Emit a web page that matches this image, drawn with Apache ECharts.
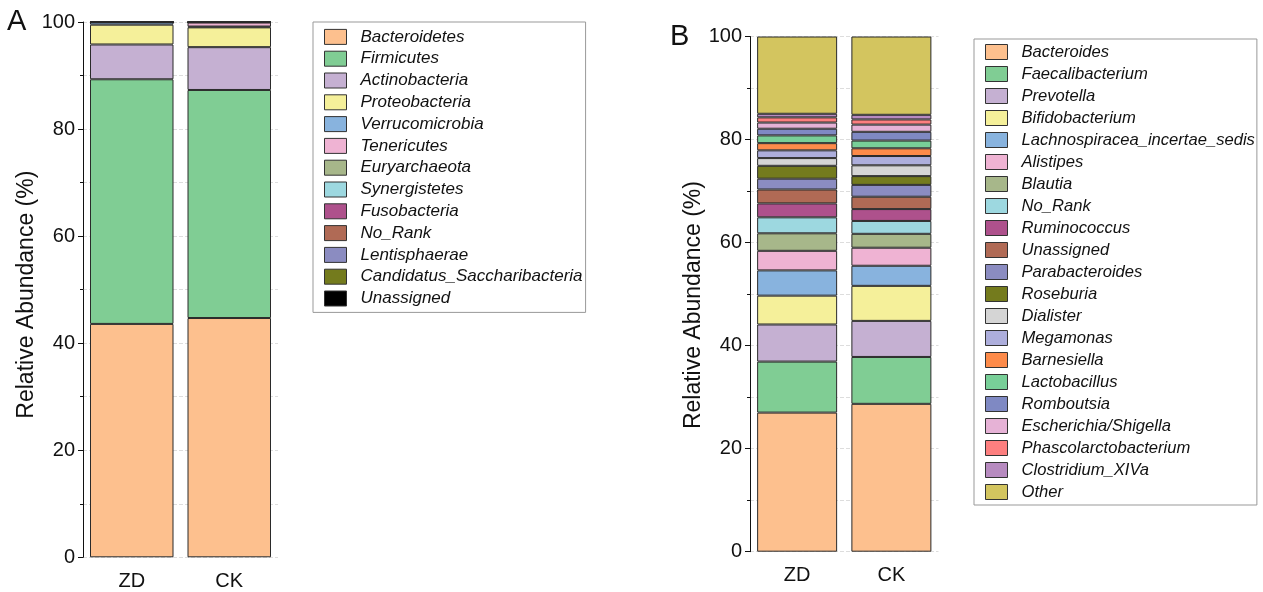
<!DOCTYPE html>
<html>
<head>
<meta charset="utf-8">
<script src="https://cdn.jsdelivr.net/npm/echarts@6/dist/echarts.min.js"></script>
<style>
  html, body { margin: 0; padding: 0; background: #fff; }
  #main { width: 1263px; height: 592px; }
</style>
</head>
<body>
<div id="main"></div>
<script>
var samples = ['ZD', 'CK'];

// panel A - phylum level
var phyla = ['Bacteroidetes', 'Firmicutes', 'Actinobacteria', 'Proteobacteria', 'Verrucomicrobia',
  'Tenericutes', 'Euryarchaeota', 'Synergistetes', 'Fusobacteria', 'No_Rank', 'Lentisphaerae',
  'Candidatus_Saccharibacteria', 'Unassigned'];
var phylaZD = [43.6, 45.7, 6.5, 3.7, 0.45, 0.005, 0.005, 0.005, 0.005, 0.005, 0.005, 0.005, 0.005];
var phylaCK = [44.7, 42.6, 8.0, 3.7, 0.15, 0.75, 0.015, 0.015, 0.015, 0.015, 0.01, 0.01, 0.01];
var phylaColors = ['#FDC08E', '#80CD94', '#C5B0D2', '#F5F09A', '#88B3DE', '#EFB3D3', '#A7B78A',
  '#9DD8E0', '#AE518C', '#B06A55', '#8B8CC1', '#747B1D', '#000000'];

// panel B - genus level
var genera = ['Bacteroides', 'Faecalibacterium', 'Prevotella', 'Bifidobacterium', 'Lachnospiracea_incertae_sedis',
  'Alistipes', 'Blautia', 'No_Rank', 'Ruminococcus', 'Unassigned', 'Parabacteroides', 'Roseburia',
  'Dialister', 'Megamonas', 'Barnesiella', 'Lactobacillus', 'Romboutsia', 'Escherichia/Shigella',
  'Phascolarctobacterium', 'Clostridium_XIVa', 'Other'];
var generaZD = [27.0, 9.9, 7.2, 5.6, 4.9, 3.8, 3.4, 3.1, 2.7, 2.7, 2.1, 2.5, 1.5, 1.5, 1.4, 1.5, 1.3, 1.2, 1.0, 0.7, 15.0];
var generaCK = [28.7, 9.1, 7.0, 6.8, 3.9, 3.5, 2.7, 2.5, 2.3, 2.4, 2.3, 1.7, 2.1, 1.8, 1.5, 1.5, 1.7, 1.4, 1.0, 0.9, 15.2];
var generaColors = ['#FDC08E', '#80CD94', '#C5B0D2', '#F5F09A', '#88B3DE', '#EFB3D3', '#A7B78A',
  '#9DD8E0', '#AE518C', '#B06A55', '#8B8CC1', '#747B1D', '#D5D5D5', '#ADAEDC', '#FD8B4A',
  '#78CF98', '#7F89C3', '#E6B2D6', '#FD7F7F', '#B78BC0', '#D3C55F'];

var yTicks = [0, 20, 40, 60, 80, 100];

var chart = echarts.init(document.getElementById('main'), null, { renderer: 'canvas' });
var FONT = 'Liberation Sans';

function xAxisOf(gi) {
  return {
    type: 'category', gridIndex: gi, data: samples,
    axisLine: { show: false }, axisTick: { show: false },
    axisLabel: { fontFamily: FONT, fontSize: 20, color: '#111', margin: 14 },
    splitLine: { show: false }
  };
}
function yAxisOf(gi, shift) {
  return {
    type: 'value', gridIndex: gi, min: 0, max: 100, interval: 20,
    name: 'Relative Abundance (%)', nameLocation: 'middle', nameGap: 43,
    nameTextStyle: { fontFamily: FONT, fontSize: 23, color: '#111', padding: [0, shift, 0, 0] },
    axisLine: { show: true, lineStyle: { color: '#111', width: 1 } },
    axisTick: { show: true, inside: false, length: 5, lineStyle: { color: '#111' } },
    minorTick: { show: true, splitNumber: 2, length: 3, lineStyle: { color: '#111' } },
    axisLabel: {
      fontFamily: FONT, fontSize: 20, color: '#111', margin: 8,
      formatter: function (v) { return yTicks.indexOf(v) >= 0 ? String(v) : ''; }
    },
    splitLine: { show: true, lineStyle: { color: '#dddddd', type: 'dashed', width: 1 } },
    minorSplitLine: { show: true, lineStyle: { color: '#dddddd', type: 'dashed', width: 1 } }
  };
}

var series = [];
phyla.forEach(function (n, i) {
  series.push({
    name: 'A|' + n, type: 'bar', stack: 'A', xAxisIndex: 0, yAxisIndex: 0,
    barWidth: 83.5, data: [phylaZD[i], phylaCK[i]],
    itemStyle: { color: phylaColors[i], borderColor: '#2a2a2a', borderWidth: 1 },
    emphasis: { disabled: true }
  });
});
genera.forEach(function (n, i) {
  series.push({
    name: 'B|' + n, type: 'bar', stack: 'B', xAxisIndex: 1, yAxisIndex: 1,
    barWidth: 80, data: [generaZD[i], generaCK[i]],
    itemStyle: { color: generaColors[i], borderColor: '#2a2a2a', borderWidth: 1 },
    emphasis: { disabled: true }
  });
});

function legendOf(names, prefix, left, top, padding, lh, fs) {
  return {
    orient: 'vertical', left: left, top: top, padding: padding,
    data: names.map(function (n) { return { name: prefix + n, icon: 'rect' }; }),
    formatter: function (name) { return name.slice(2); },
    icon: 'rect',
    itemWidth: 22, itemHeight: 15, itemGap: 0,
    itemStyle: { borderColor: '#333', borderWidth: 1 },
    textStyle: { fontFamily: FONT, fontStyle: 'italic', fontSize: fs, color: '#111',
      lineHeight: lh, padding: [0, 0, 0, 9] },
    borderColor: '#999', borderWidth: 1, borderRadius: 0,
    selectedMode: false
  };
}

var option = {
  animation: false,
  backgroundColor: '#fff',
  title: [
    { text: 'A', left: 7, top: 7, padding: 0, textStyle: { fontFamily: FONT, fontSize: 29, fontWeight: 'normal', color: '#111' } },
    { text: 'B', left: 670, top: 22, padding: 0, textStyle: { fontFamily: FONT, fontSize: 29, fontWeight: 'normal', color: '#111' } }
  ],
  grid: [
    { left: 83, top: 22, width: 195, height: 535.3 },
    { left: 750, top: 36.5, width: 188.5, height: 515.2 }
  ],
  xAxis: [xAxisOf(0), xAxisOf(1)],
  yAxis: [yAxisOf(0, 10), yAxisOf(1, 22)],
  legend: [
    legendOf(phyla, 'A|', 313, 22, [4, 3, 3, 11], 21.8, 17),
    legendOf(genera, 'B|', 974, 39, [2, 2, 2, 11], 22, 16.6)
  ],
  series: series
};
chart.setOption(option);
</script>
</body>
</html>
